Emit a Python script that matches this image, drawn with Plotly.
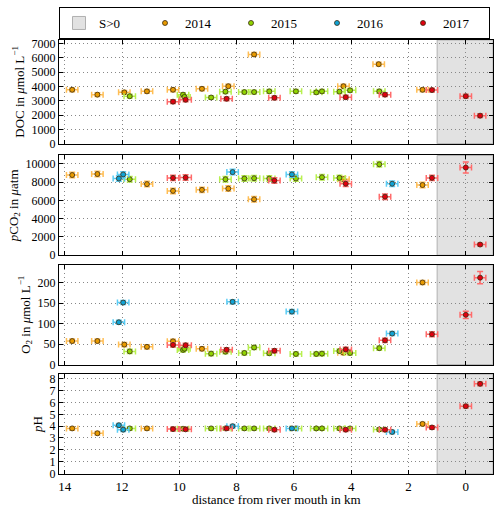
import plotly.graph_objects as go

# ---------------- data ----------------
x_2014 = [13.74, 12.86, 11.92, 11.13, 10.22, 9.21, 8.29, 7.39, 4.27, 3.04, 1.51]
doc_2014 = [3770, 3430, 3590, 3660, 3770, 3840, 4020, 6240, 4020, 5560, 3770]
pco2_2014 = [8760, 8870, None, 7770, 7030, 7140, 7280, 6110, 8300, None, 7670]
o2_2014 = [57.7, 57.7, 49, 43.5, 57, 38.7, None, None, 29.2, None, 200.8]
ph_2014 = [3.81, 3.40, None, 3.81, None, None, None, None, None, None, 4.19]

x_2015 = [11.73, 9.87, 9.82, 8.89, 8.39, 7.73, 7.39, 6.86, 5.93, 5.22, 5.02, 4.41, 4.04, 3.02]
doc_2015 = [3320, 3430, 3270, 3230, 3640, 3610, 3610, 3660, 3660, 3590, 3660, 3640, 3730, 3660]
pco2_2015 = [8300, None, None, None, 8300, 8380, 8410, 8380, 8380, None, 8520, 8450, None, 9930]
o2_2015 = [32.4, 36, 39, 26.9, 31.6, 28.5, 41.9, 27.7, 26.1, 26.1, 26.9, 33.2, 28.5, 40.3]
ph_2015 = [3.81, 3.78, None, 3.81, 3.81, 3.81, 3.81, 3.81, 3.81, 3.81, 3.81, 3.81, 3.81, 3.72]

x_2016 = [12.11, 11.96, 8.14, 6.07, 2.57]
doc_2016 = [None, None, None, None, None]
pco2_2016 = [8380, 8830, 9080, 8830, 7810]
o2_2016 = [103.6, 151.8, 153.4, 129.6, 75.9]
ph_2016 = [4.08, 3.70, 4.00, 3.81, 3.51]

x_2017 = [10.22, 9.78, 8.35, 6.68, 4.19, 2.82, 1.18, 0.0, -0.50]
doc_2017 = [2940, 3070, 3140, 3210, 3250, 3430, 3750, 3320, 1960]
pco2_2017 = [8450, 8480, None, 8160, 7810, 6400, 8450, 9580, 1170]
o2_2017 = [48.2, 47.4, 36.4, 34.0, 37.2, 59.3, 74.3, 121.7, 212.6]
ph_2017 = [3.75, 3.73, 3.81, 3.70, 3.70, 3.70, 3.89, 5.69, 7.58]

# uncertainties (one per point)
x_err = 0.2
doc_err = 130
pco2_err = 300
o2_err = 5
ph_err = 0.15
pco2_err_2017 = [300, 300, 300, 300, 300, 300, 300, 600, 150]
o2_err_2017 = [5, 5, 5, 5, 5, 5, 6, 9, 15]

years = ["2014", "2015", "2016", "2017"]
fill_colors = ["#E89A00", "#8FD400", "#0FA3D6", "#E00010"]
bar_colors = ["#FFBE55", "#B8F050", "#5CCDF5", "#FF6B6B"]

series = {
    "2014": (x_2014, [doc_2014, pco2_2014, o2_2014, ph_2014], [doc_err, pco2_err, o2_err, ph_err]),
    "2015": (x_2015, [doc_2015, pco2_2015, o2_2015, ph_2015], [doc_err, pco2_err, o2_err, ph_err]),
    "2016": (x_2016, [doc_2016, pco2_2016, o2_2016, ph_2016], [doc_err, pco2_err, o2_err, ph_err]),
    "2017": (x_2017, [doc_2017, pco2_2017, o2_2017, ph_2017], [doc_err, pco2_err_2017, o2_err_2017, ph_err]),
}

y_titles = ["DOC in <i>μ</i>mol L<sup>−1</sup>",
            "<i>p</i>CO<sub>2</sub> in <i>μ</i>atm",
            "O<sub>2</sub> in <i>μ</i>mol L<sup>−1</sup>",
            "<i>p</i>H"]
y_ranges = [[0, 7250], [0, 10900], [0, 244], [-0.05, 8.4]]
y_ticks = [list(range(0, 7001, 1000)), list(range(0, 10001, 2000)),
           list(range(0, 201, 50)), list(range(0, 9))]
x_ticks = list(range(0, 15, 2))
saline_start = 1.0
x_range = [14.2, -0.95]

domains = [[0.761, 1.0], [0.504, 0.734], [0.252, 0.482], [0.0, 0.230]]

FONT = "Liberation Serif"

fig = go.Figure()

# legend entry for the saline region
fig.add_trace(go.Scatter(
    x=[x_range[1] - 5], y=[0], mode="markers", name="S>0", showlegend=True,
    marker=dict(symbol="square", size=13, color="#e2e2e2", line=dict(color="#b0b0b0", width=1)),
    hoverinfo="skip",
))

for yi, (year, fc, bc) in enumerate(zip(years, fill_colors, bar_colors)):
    xs, vals, errs = series[year]
    first = True
    for p in range(4):
        ax = "" if p == 0 else str(p + 1)
        err = errs[p]
        err_list = err if isinstance(err, list) else [err] * len(xs)
        keep = [i for i, v in enumerate(vals[p]) if v is not None]
        if not keep:
            continue
        px = [float(xs[i]) for i in keep]
        py = [float(vals[p][i]) for i in keep]
        pe = [float(err_list[i]) for i in keep]
        fig.add_trace(go.Scatter(
            x=px, y=py, mode="markers",
            xaxis="x" + ax, yaxis="y" + ax,
            name=year, legendgroup=year, showlegend=first,
            marker=dict(size=5, color=fc, line=dict(color="#3a2a10", width=0.8)),
            error_x=dict(type="constant", value=x_err, color=bc, thickness=1.5, width=3),
            error_y=dict(type="data", array=pe, color=bc, thickness=1.5, width=3),
        ))
        first = False

shapes = []
for p in range(4):
    ax = "" if p == 0 else str(p + 1)
    shapes.append(dict(
        type="rect", xref="x" + ax, yref="paper",
        x0=saline_start, x1=x_range[1], y0=domains[p][0], y1=domains[p][1],
        fillcolor="#e2e2e2", line=dict(color="#b0b0b0", width=1),
        layer="below",
    ))

fig.update_layout(
    width=500, height=509,
    margin=dict(l=59, r=7, t=26, b=35),
    paper_bgcolor="white", plot_bgcolor="white",
    font=dict(family=FONT, size=13, color="black"),
    shapes=shapes,
    showlegend=True,
    legend=dict(orientation="h", x=0, xanchor="left", y=1.0 + 1 / 448, yanchor="bottom",
                bordercolor="black", borderwidth=1, bgcolor="white",
                font=dict(family=FONT, size=13),
                entrywidth=41, entrywidthmode="pixels", itemwidth=30),
    annotations=[dict(text="distance from river mouth in km", xref="paper", yref="paper",
                      x=0.5, y=-26 / 448, xanchor="center", yanchor="middle",
                      showarrow=False, font=dict(family=FONT, size=13))],
)

for p in range(4):
    ax = "" if p == 0 else str(p + 1)
    fig.update_layout({
        "xaxis" + ax: dict(
            type="linear",
            domain=[0, 1], anchor="y" + ax, range=x_range,
            tickmode="array", tickvals=x_ticks, showticklabels=(p == 3),
            tickfont=dict(family=FONT, size=13),
            ticks="inside", ticklen=4, tickcolor="black", mirror="ticks",
            showline=True, linecolor="black", linewidth=1,
            showgrid=True, gridcolor="#888888", griddash="1px,3px", gridwidth=1,
            zeroline=False,
        ),
        "yaxis" + ax: dict(
            type="linear",
            domain=domains[p], anchor="x" + ax, range=y_ranges[p],
            tickmode="array", tickvals=y_ticks[p], tickformat="d",
            tickfont=dict(family=FONT, size=12),
            ticks="inside", ticklen=4, tickcolor="black", mirror="ticks",
            showline=True, linecolor="black", linewidth=1,
            showgrid=True, gridcolor="#888888", griddash="1px,3px", gridwidth=1,
            zeroline=False,
            title=dict(text=y_titles[p], standoff=4, font=dict(family=FONT, size=13)),
        ),
    })

fig.write_html("out.html", config={"displayModeBar": False},
               post_script="document.body.style.margin='0';document.body.style.padding='0';")
